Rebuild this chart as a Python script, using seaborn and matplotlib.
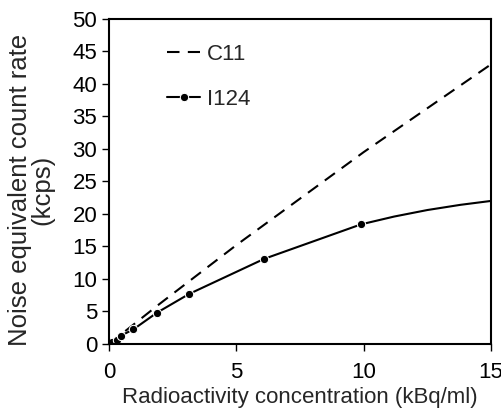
import numpy as np
import pandas as pd
import matplotlib
matplotlib.use("Agg")
import matplotlib.pyplot as plt
import seaborn as sns

sns.set_style("ticks")
plt.rcParams["font.family"] = ["Liberation Sans", "DejaVu Sans"]

# C11 curve (no markers)
c11_x = [0, 1, 2, 3, 5, 10, 15]
c11_y = [0, 3.1, 6.2, 9.2, 15.2, 29.5, 43.0]

i124_x = [0.02, 0.12, 0.3, 0.48, 0.96, 1.88, 3.15, 6.1, 9.9, 11.2, 12.5, 13.8, 15]
i124_y = [0.1, 0.35, 0.6, 1.3, 2.25, 4.8, 7.7, 13.1, 18.4, 19.6, 20.6, 21.4, 22.0]
i124_marked = [0, 1, 2, 3, 4, 5, 6, 7, 8]

fs = 16

fig = plt.figure(figsize=(5.02, 4.19), dpi=100)
ax = fig.add_axes([0.217, 0.179, 0.761, 0.776])

sns.lineplot(x=c11_x, y=c11_y, ax=ax, color="black", lw=1.5,
             linestyle=(0, (6, 4)), label="C11", sort=False)
sns.lineplot(x=i124_x, y=i124_y, ax=ax, color="black", lw=1.5,
             marker="o", markersize=6, markevery=i124_marked,
             label="I124", sort=False)

ax.set_xlim(0, 15)
ax.set_ylim(0, 50)
ax.set_xticks([0, 5, 10, 15])
ax.set_yticks(range(0, 51, 5))
for s in ax.spines.values():
    s.set_linewidth(1.5)
    s.set_color("black")
ax.tick_params(direction="out", length=5, width=1, labelsize=fs, colors="black")
ax.tick_params(axis="x", pad=8)
ax.set_xlabel("Radioactivity concentration (kBq/ml)", fontsize=fs, labelpad=3)
ax.set_ylabel("Noise equivalent count rate\n(kcps)", fontsize=18.5,
              linespacing=0.95)
ax.yaxis.set_label_coords(-0.142, 0.475)

leg = ax.legend(loc="upper left", bbox_to_anchor=(0.1, 0.985), frameon=False,
                fontsize=fs, handlelength=1.5, labelspacing=1.1,
                handletextpad=0.3)

fig.savefig("out.png", dpi=100)
